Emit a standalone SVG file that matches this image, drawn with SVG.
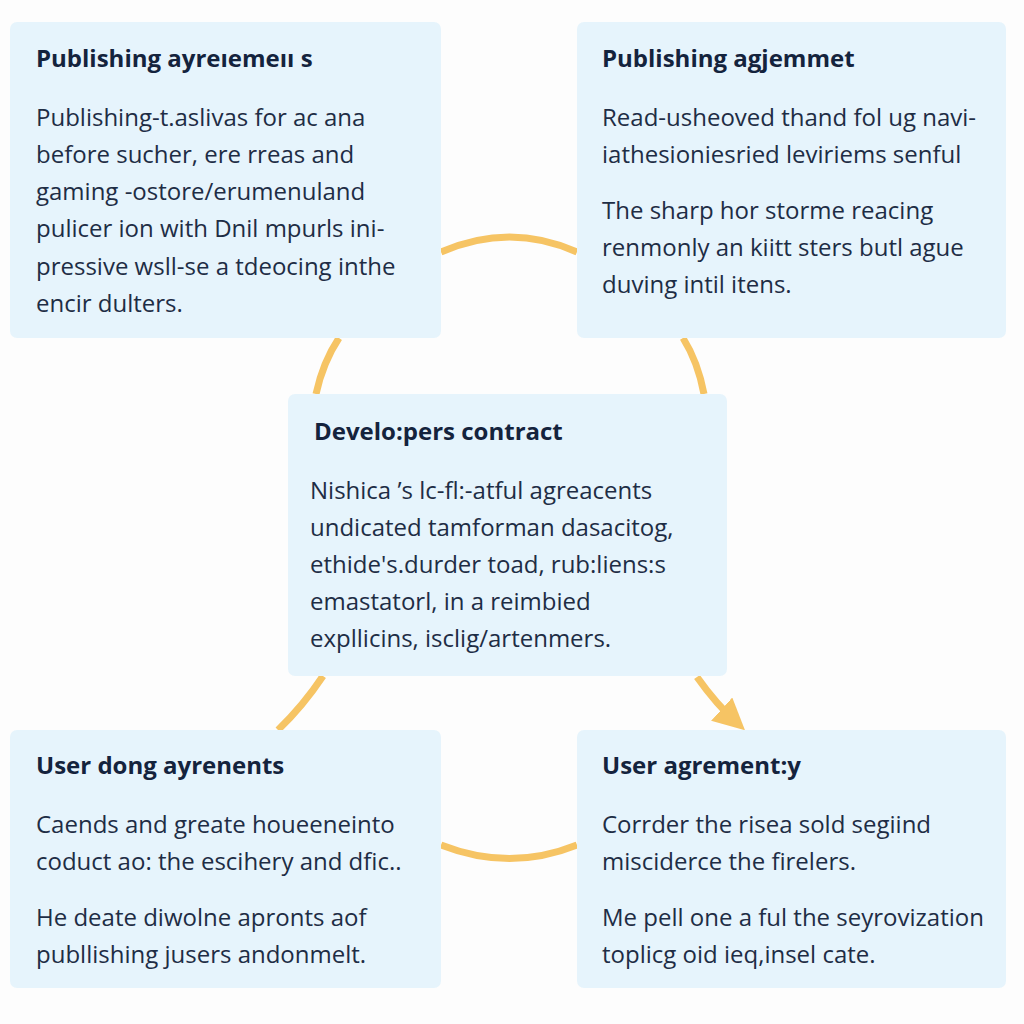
<svg xmlns="http://www.w3.org/2000/svg" width="1024" height="1024" viewBox="0 0 1024 1024">
<defs>
<style>
.box{fill:#e6f4fc;}
.t{font-family:"Open Sans",Lato,"Liberation Sans",sans-serif;font-weight:700;font-size:24px;fill:#14233d;}
.b{font-family:"Open Sans",Lato,"Liberation Sans",sans-serif;font-size:24px;fill:#1e2d45;}
.c{fill:none;stroke:#f6c464;stroke-width:7;stroke-linecap:butt;}
</style>
<marker id="ah" viewBox="0 0 10 10" refX="7" refY="5" markerWidth="4.5" markerHeight="4.5" orient="auto" markerUnits="strokeWidth">
<path d="M0,0 L10,5 L0,10 z" fill="#f6c464"/>
</marker>
</defs>
<rect width="1024" height="1024" fill="#fdfdfd"/>
<g id="connectors">
<path class="c" d="M441,252 Q510,222 577,252"/>
<path class="c" d="M339,338 Q323,362 316,394"/>
<path class="c" d="M683,338 Q698,362 704,394"/>
<path class="c" d="M323,676 Q303,706 278,730"/>
<path class="c" d="M697,677 Q716,704 738,724" marker-end="url(#ah)"/>
<path class="c" d="M441,845 Q510,872 577,845"/>
</g>
<g id="node-tl">
<rect class="box" x="10" y="22" width="431" height="316" rx="7"/>
<text class="t" x="36" y="67">Publishing ayreıemeıı s</text>
<text class="b" x="36" y="126">Publishing-t.aslivas for ac ana</text>
<text class="b" x="36" y="163">before sucher, ere rreas and</text>
<text class="b" x="36" y="200">gaming -ostore/erumenuland</text>
<text class="b" x="36" y="237">pulicer ion with Dnil mpurls ini-</text>
<text class="b" x="36" y="275">pressive wsll-se a tdeocing inthe</text>
<text class="b" x="36" y="312">encir dulters.</text>
</g>
<g id="node-tr">
<rect class="box" x="577" y="22" width="429" height="316" rx="7"/>
<text class="t" x="602" y="67">Publishing agjemmet</text>
<text class="b" x="602" y="126">Read-usheoved thand  fol ug navi-</text>
<text class="b" x="602" y="163">iathesioniesried  leviriems senful</text>
<text class="b" x="602" y="219">The sharp hor storme reacing</text>
<text class="b" x="602" y="256">renmonly an kiitt sters butl  ague</text>
<text class="b" x="602" y="293">duving intil itens.</text>
</g>
<g id="node-center">
<rect class="box" x="288" y="394" width="439" height="282" rx="7"/>
<text class="t" x="314" y="440">Develo:pers contract</text>
<text class="b" x="310" y="499">Nishica ’s lc-fl:-atful agreacents</text>
<text class="b" x="310" y="536">undicated tamforman dasacitog,</text>
<text class="b" x="310" y="573">ethide's.durder toad, rub:liens:s</text>
<text class="b" x="310" y="610">emastatorl, in a reimbied</text>
<text class="b" x="310" y="647">expllicins, isclig/artenmers.</text>
</g>
<g id="node-bl">
<rect class="box" x="10" y="730" width="431" height="258" rx="7"/>
<text class="t" x="36" y="774">User dong ayrenents</text>
<text class="b" x="36" y="833">Caends and greate houeeneinto</text>
<text class="b" x="36" y="870">coduct ao: the escihery and dfic..</text>
<text class="b" x="36" y="926">He deate diwolne apronts aof</text>
<text class="b" x="36" y="963">publlishing jusers andonmelt.</text>
</g>
<g id="node-br">
<rect class="box" x="577" y="730" width="429" height="258" rx="7"/>
<text class="t" x="602" y="774">User agrement:y</text>
<text class="b" x="602" y="833">Corrder the risea sold segiind</text>
<text class="b" x="602" y="870">misciderce the firelers.</text>
<text class="b" x="602" y="926">Me pell one a ful the seyrovization</text>
<text class="b" x="602" y="963">toplicg oid ieq,insel cate.</text>
</g>
</svg>
